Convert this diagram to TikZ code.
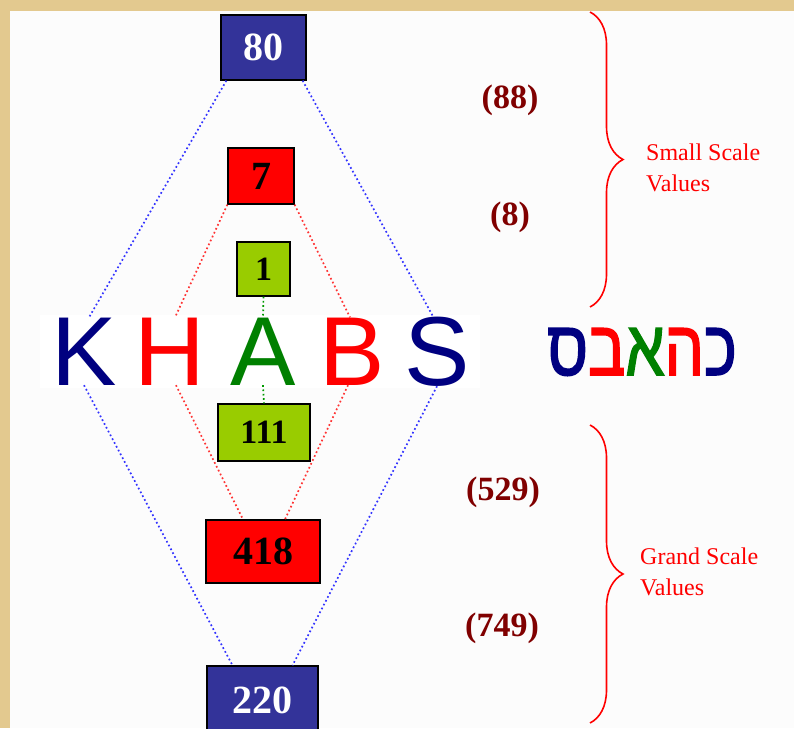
\documentclass[tikz,border=0pt]{standalone}
\usepackage{fontspec}
\setmainfont{Liberation Serif}
\newfontfamily\arialfont{Liberation Sans}
\newfontfamily\hebfont[Script=Hebrew,FakeBold=2]{Liberation Sans}
\TeXXeTstate=1
\usetikzlibrary{decorations.pathreplacing}
\definecolor{parch}{HTML}{E3C98F}
\definecolor{boxblue}{HTML}{333399}
\definecolor{boxgreen}{HTML}{99CC00}
\definecolor{navy}{HTML}{000080}
\definecolor{leafgreen}{HTML}{008000}
\definecolor{dotblue}{HTML}{3333FF}
\definecolor{dotred}{HTML}{FF3333}
\definecolor{dotgreen}{HTML}{009900}
\definecolor{wine}{HTML}{800000}
\tikzset{
  numbox/.style={draw=black,line width=1.2pt,inner sep=0pt,font=\bfseries\fontsize{40}{40}\selectfont},
  bluebox/.style={numbox,fill=boxblue,text=white},
  redbox/.style={numbox,fill=red,text=black},
  greenbox/.style={numbox,fill=boxgreen,text=black,font=\bfseries\fontsize{34}{34}\selectfont},
  letter/.style={inner sep=0pt,anchor=base,font=\arialfont\fontsize{98}{98}\selectfont},
  sumval/.style={text=wine,inner sep=0pt,font=\bfseries\fontsize{34}{34}\selectfont},
  scalelabel/.style={text=red,anchor=west,align=left,inner sep=0pt,font=\fontsize{24}{31}\selectfont},
  scalebrace/.style={draw=red,line width=1.6pt,decorate,decoration={brace,amplitude=33pt}},
  bluedots/.style={draw=dotblue,line width=1.7pt,dash pattern=on 1.7pt off 2.6pt},
  reddots/.style={draw=dotred,line width=1.7pt,dash pattern=on 1.7pt off 2.6pt},
  greendots/.style={draw=dotgreen,line width=1.7pt,dash pattern=on 1.7pt off 2.6pt}
}
\begin{document}
\begin{tikzpicture}[x=1pt,y=-1pt]
  % Background
  \useasboundingbox (0,0) rectangle (794,728);
  \fill[parch] (0,0) rectangle (794,728);
  \fill[white!99!black] (10,11) rectangle (794,728);
  \fill[white] (40,315) rectangle (480,388);

  % Small scale boxes
  \node[bluebox,minimum width=85pt,minimum height=65pt] (n80) at (263.5,47.5) {80};
  \node[redbox,minimum width=66pt,minimum height=56pt] (n7) at (261,176) {7};
  \node[greenbox,minimum width=53pt,minimum height=54pt] (n1) at (263.5,269) {1};

  % KHABS
  \node[letter,text=navy] (K) at (84,385) {K};
  \node[letter,text=red] (H) at (170,385) {H};
  \node[letter,text=leafgreen] (A) at (263,385) {A};
  \node[letter,text=red] (B) at (352,385) {B};
  \node[letter,text=navy] (S) at (437,385) {S};

  % Grand scale boxes
  \node[greenbox,minimum width=92pt,minimum height=57pt] (n111) at (264,432.5) {111};
  \node[redbox,minimum width=114pt,minimum height=63pt] (n418) at (263,551.5) {418};
  \node[bluebox,minimum width=111pt,minimum height=68pt] (n220) at (262.5,700) {220};

  % Hebrew spelling
  \node[inner sep=0pt,font=\hebfont\fontsize{78}{78}\selectfont] (heb) at (642,352)
    {\scalebox{0.8}[1]{\textcolor{navy}{\beginR ס\endR}\textcolor{red}{\beginR ב\endR}\textcolor{leafgreen}{\beginR א\endR}\textcolor{red}{\beginR ה\endR}\textcolor{navy}{\beginR כ\endR}}};

  % Connectors
  \draw[bluedots] ([xshift=6pt]n80.south west) -- ([xshift=5pt]K.north);
  \draw[bluedots] ([xshift=-4pt]n80.south east) -- ([xshift=-4pt]S.north);
  \draw[bluedots] (K.south) -- ([xshift=-30pt]n220.north);
  \draw[bluedots] (S.south) -- ([xshift=30pt]n220.north);
  \draw[reddots] (n7.south west) -- ([xshift=5pt]H.north);
  \draw[reddots] (n7.south east) -- ([xshift=-2pt]B.north);
  \draw[reddots] ([xshift=6pt]H.south) -- ([xshift=-20pt]n418.north);
  \draw[reddots] ([xshift=-4pt]B.south) -- ([xshift=22pt]n418.north);
  \draw[greendots] (n1.south) -- (A.north);
  \draw[greendots] (A.south) -- (n111.north);

  % Values
  \node[sumval] (v88) at (510,100) {(88)};
  \node[sumval] (v8) at (510,217) {(8)};
  \node[sumval] (v529) at (503,492) {(529)};
  \node[sumval] (v749) at (502,628) {(749)};

  % Braces
  \draw[scalebrace] (590,12) -- (590,307);
  \draw[scalebrace] (590,425) -- (590,723);
  \node[scalelabel] (smalllab) at (646,168) {Small Scale\\Values};
  \node[scalelabel] (grandlab) at (640,572) {Grand Scale\\Values};
\end{tikzpicture}
\end{document}
